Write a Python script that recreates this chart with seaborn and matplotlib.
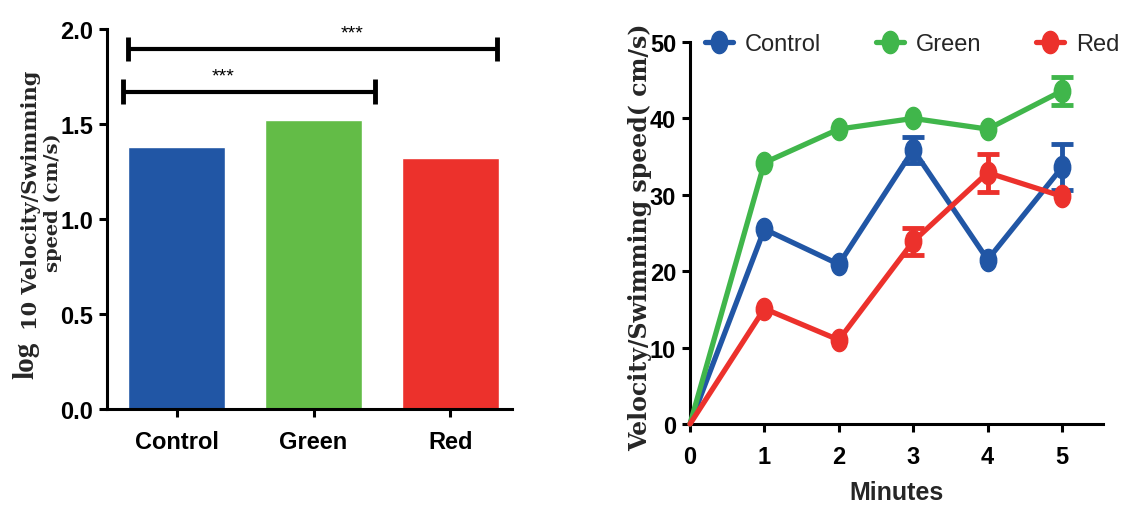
import numpy as np
import pandas as pd
import matplotlib
matplotlib.use("Agg")
import matplotlib.pyplot as plt
import seaborn as sns
from matplotlib.path import Path
from matplotlib.transforms import Affine2D
from matplotlib.lines import Line2D

# ---------------- data ----------------
groups = ["Control", "Green", "Red"]
log_speed = [1.38, 1.52, 1.32]

minutes = [0, 1, 2, 3, 4, 5]
control_speed = [0, 25.5, 20.9, 35.9, 21.5, 33.6]
green_speed = [0, 34.2, 38.6, 40.0, 38.6, 43.6]
red_speed = [0, 15.1, 11.0, 23.9, 32.9, 29.8]
control_err = [np.nan, np.nan, np.nan, 1.7, np.nan, 3.0]
green_err = [np.nan, np.nan, np.nan, np.nan, np.nan, 1.8]
red_err = [np.nan, np.nan, np.nan, 1.75, 2.5, np.nan]

sig_pairs = [("Control", "Red", "***"), ("Control", "Green", "***")]

# ---------------- style ----------------
sns.set_theme(style="ticks")
plt.rcParams["font.family"] = ["Liberation Sans Narrow", "Liberation Sans", "DejaVu Sans"]
plt.rcParams["axes.linewidth"] = 2.2
plt.rcParams["xtick.major.width"] = 2.2
plt.rcParams["ytick.major.width"] = 2.2
plt.rcParams["xtick.major.size"] = 6
plt.rcParams["ytick.major.size"] = 6
plt.rcParams["xtick.color"] = "black"
plt.rcParams["ytick.color"] = "black"
plt.rcParams["axes.edgecolor"] = "black"

blue = "#2156A5"
green_bar = "#63BC47"
green_line = "#40B64B"
red = "#EC312C"

W, H = 1123, 510
fig = plt.figure(figsize=(W / 100, H / 100), dpi=100)

def px_axes(x0, y_top, x1, y_bot):
    return fig.add_axes([x0 / W, (H - y_bot) / H, (x1 - x0) / W, (y_bot - y_top) / H])

# ---------------- left: bar chart ----------------
ax1 = px_axes(107, 30, 512, 410)
bar_df = pd.DataFrame({"group": groups, "value": log_speed})
sns.barplot(data=bar_df, x="group", y="value", hue="group",
            palette=[blue, green_bar, red], width=0.71, legend=False,
            saturation=1, ax=ax1)
ax1.set_ylim(0, 2.0)
ax1.set_xlim(-0.51, 2.45)
ax1.set_yticks([0, 0.5, 1.0, 1.5, 2.0])
ax1.set_yticklabels(["0.0", "0.5", "1.0", "1.5", "2.0"])
ax1.set_xlabel("")
ax1.set_ylabel("")
for s in ["top", "right"]:
    ax1.spines[s].set_visible(False)
ax1.tick_params(axis="y", labelsize=17, pad=4)
ax1.tick_params(axis="x", labelsize=17, pad=9)
for lab in ax1.get_xticklabels() + ax1.get_yticklabels():
    lab.set_fontweight("bold")

# significance brackets
sig_geom = [(-0.36, 2.34, 1.895, 1.28), (-0.39, 1.45, 1.67, 0.34)]
for (a, b, stars), (xs, xe, yy, xt) in zip(sig_pairs, sig_geom):
    ax1.plot([xs, xe], [yy, yy], color="black", lw=3, clip_on=False, solid_capstyle="butt")
    for xx in (xs, xe):
        ax1.plot([xx, xx], [yy - 0.065, yy + 0.065], color="black", lw=3.5,
                 clip_on=False, solid_capstyle="butt")
    ax1.text(xt, yy + 0.04, stars, ha="center", va="bottom", fontsize=14,
             family=["Liberation Sans", "DejaVu Sans"], color="black")

# left y label
serif = ["DejaVu Serif"]
fig.text(26 / W, 1 - 360 / H, "log", rotation=90, ha="center", va="center",
         fontsize=21, fontweight="bold", family=["Liberation Serif", "DejaVu Serif"])
fig.text(31 / W, 1 - 200 / H, "10 Velocity/Swimming", rotation=90, ha="center",
         va="center", fontsize=15, fontweight="bold", family=serif)
fig.text(53 / W, 1 - 203 / H, "speed (cm/s)", rotation=90, ha="center",
         va="center", fontsize=14, fontweight="bold", family=serif)

# ---------------- right: line chart ----------------
ax2 = px_axes(690, 43, 1103, 425)
line_df = pd.DataFrame({
    "Minutes": minutes * 3,
    "speed": control_speed + green_speed + red_speed,
    "err": control_err + green_err + red_err,
    "group": ["Control"] * 6 + ["Green"] * 6 + ["Red"] * 6,
})
colors = {"Control": blue, "Green": green_line, "Red": red}
ellipse = Path.unit_circle().transformed(Affine2D().scale(0.74, 1.0))

for g in groups:
    sub = line_df[line_df.group == g]
    eb = sub.dropna(subset=["err"])
    ax2.errorbar(eb.Minutes, eb.speed, yerr=eb.err, fmt="none",
                 ecolor=colors[g], elinewidth=3.5, capsize=8, capthick=3.5,
                 clip_on=False, zorder=2)
    sns.lineplot(data=sub, x="Minutes", y="speed", color=colors[g], lw=3.8,
                 ax=ax2, clip_on=False, zorder=3)
    mk = sub[sub.Minutes > 0]
    ax2.plot(mk.Minutes, mk.speed, linestyle="none", marker=ellipse,
             markersize=16, color=colors[g], clip_on=False, zorder=4)

ax2.set_xlim(0, 5.55)
ax2.set_ylim(0, 50)
ax2.set_xticks(minutes)
ax2.set_yticks([0, 10, 20, 30, 40, 50])
for s in ["top", "right"]:
    ax2.spines[s].set_visible(False)
ax2.tick_params(axis="x", labelsize=17, pad=9)
ax2.tick_params(axis="y", labelsize=17, pad=4)
for lab in ax2.get_xticklabels() + ax2.get_yticklabels():
    lab.set_fontweight("bold")
ax2.set_xlabel("Minutes", fontsize=18, fontweight="bold", labelpad=9)
ax2.set_ylabel("")
fig.text(640 / W, 1 - 237 / H, "Velocity/Swimming speed( cm/s)", rotation=90,
         ha="center", va="center", fontsize=17, fontweight="bold", family=serif)

# legend with line + ellipse marker handles
handles = [Line2D([0], [0], color=colors[g], lw=3.8, marker=ellipse, markersize=16)
           for g in groups]
fig.legend(handles, groups, loc="center left", bbox_to_anchor=(705 / W, 1 - 45 / H),
           ncol=3, frameon=False, fontsize=17, handlelength=1.2,
           handletextpad=0.5, columnspacing=2.3, borderpad=0, borderaxespad=0)

fig.savefig("out.png", dpi=100)
